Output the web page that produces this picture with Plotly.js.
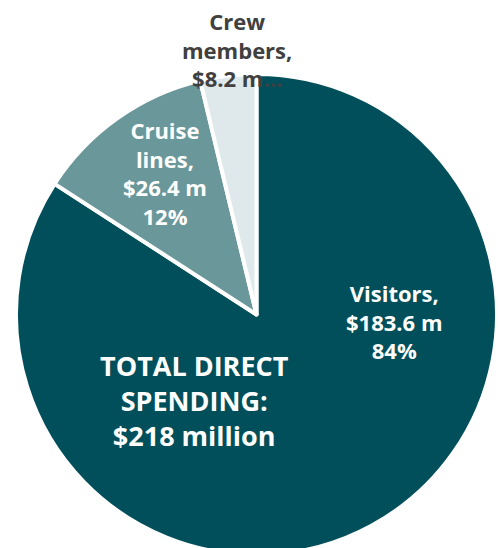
<!DOCTYPE html>
<html>
<head>
<meta charset="utf-8">
<script src="https://cdn.plot.ly/plotly-3.0.1.min.js"></script>
<style>html,body{margin:0;padding:0;background:#fff;overflow:hidden}</style>
</head>
<body>
<div id="chart"></div>
<script>
// Data
var labels = ['Visitors', 'Cruise lines', 'Crew members'];
var values = [183.6, 26.4, 8.2];
var percents = [84, 12, 4];
var labelLines = [['Visitors,'], ['Cruise', 'lines,'], ['Crew', 'members,']];
var colors = ['#004F5A', '#6A979A', '#DFE8EA'];
var totalLines = ['TOTAL DIRECT', 'SPENDING:', '$218 million'];

// label placement (pixels, block centres)
var labelPos = [
  {x: 394, y: 321, color: '#FFFFFF', showPct: true, trunc: false},
  {x: 165, y: 173, color: '#FFFFFF', showPct: true, trunc: false},
  {x: 237, y: 49, color: '#404040', showPct: false, trunc: true}
];

var W = 498, H = 560;
var mT = 74, mB = 5, mL = 16, mR = 1;
var pw = W - mL - mR, ph = H - mT - mB;

function px2x(p) { return (p - mL) / pw; }
function py2y(p) { return 1 - (p - mT) / ph; }

var annotations = [];
var fontFam = '"Open Sans", "Noto Sans", sans-serif';
labels.forEach(function (lab, i) {
  var lines = labelLines[i].slice();
  var valTxt = '$' + values[i] + ' m' + (labelPos[i].trunc ? '\u2026' : '');
  lines.push(valTxt);
  if (labelPos[i].showPct) lines.push(percents[i] + '%');
  annotations.push({
    x: px2x(labelPos[i].x), y: py2y(labelPos[i].y),
    xref: 'paper', yref: 'paper', xanchor: 'center', yanchor: 'middle',
    text: lines.map(function (t) { return '<b>' + t + '</b>'; }).join('<br>'),
    align: 'center', showarrow: false, borderpad: 0,
    font: {family: fontFam, size: 22, color: labelPos[i].color}
  });
});
annotations.push({
  x: px2x(194), y: py2y(400),
  xref: 'paper', yref: 'paper', xanchor: 'center', yanchor: 'middle',
  text: totalLines.map(function (t) { return '<b>' + t + '</b>'; }).join('<br>'),
  align: 'center', showarrow: false, borderpad: 0,
  font: {family: fontFam, size: 27, color: '#FFFFFF'}
});

var trace = {
  type: 'pie',
  labels: labels,
  values: values,
  sort: false,
  direction: 'clockwise',
  rotation: 0,
  textinfo: 'none',
  hoverinfo: 'label+value+percent',
  marker: {colors: colors, line: {color: '#FFFFFF', width: 4}},
  showlegend: false
};

var layout = {
  width: W, height: H,
  margin: {t: mT, b: mB, l: mL, r: mR, pad: 0},
  paper_bgcolor: '#FFFFFF',
  showlegend: false,
  annotations: annotations
};

Plotly.newPlot('chart', [trace], layout, {displayModeBar: false, staticPlot: true});
</script>
</body>
</html>
